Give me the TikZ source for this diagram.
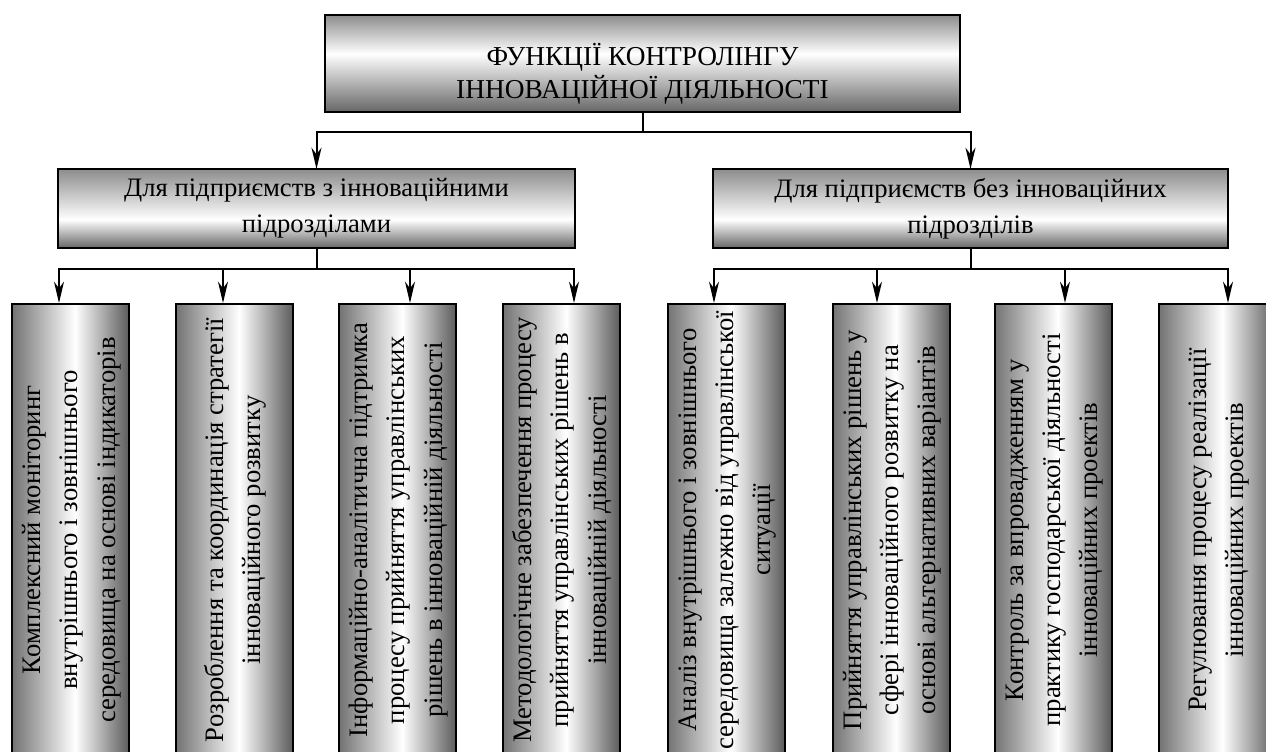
\documentclass[tikz,border=0pt]{standalone}
\usepackage{fontspec}
\setmainfont{Liberation Serif}
\usetikzlibrary{arrows.meta}
\definecolor{gA}{gray}{0.55}
\definecolor{gB}{gray}{0.40}
\definecolor{gC}{gray}{0.45}
\definecolor{gD}{gray}{0.36}
\pgfdeclareverticalshading{vgrTop}{100bp}{color(0bp)=(gB); color(25bp)=(gB); color(55bp)=(white); color(75bp)=(gA); color(100bp)=(gA)}
\pgfdeclareverticalshading{vgrMid}{100bp}{color(0bp)=(gB); color(25bp)=(gB); color(43bp)=(white); color(75bp)=(gA); color(100bp)=(gA)}
\pgfdeclarehorizontalshading{hgr}{100bp}{color(0bp)=(gC); color(25bp)=(gC); color(52bp)=(white); color(75bp)=(gD); color(100bp)=(gD)}
\newcommand{\vtext}[1]{\rotatebox{90}{\fontsize{20}{28}\selectfont\begin{tabular}{@{}c@{}}#1\end{tabular}}}
\begin{document}
\begin{tikzpicture}[x=0.75pt,y=-0.75pt,
  every node/.style={inner sep=0pt, outer sep=0pt},
  topbox/.style={draw=black, line width=1.5pt, shade, shading=vgrTop, minimum width=476.25pt, minimum height=72.75pt},
  midbox/.style={draw=black, line width=1.5pt, shade, shading=vgrMid, minimum height=59.25pt, align=center, font=\fontsize{20}{27}\selectfont},
  colbox/.style={draw=black, line width=1.5pt, shade, shading=hgr, minimum width=87.75pt, minimum height=339pt},
  txt/.style={align=center},
  conn/.style={line width=1.5pt},
  arr/.style={conn, -{Stealth[length=16pt,width=7.5pt,inset=5pt]}}]
\useasboundingbox (0,0) rectangle (1266,751);
\clip (0,0) rectangle (1266,751);
\fill[white] (0,0) rectangle (1266,751);

% top
\node[topbox] (top) at (642.5,63.5) {};
\node[txt, font=\fontsize{20.5}{25}\selectfont] (topt) at (642.5,74) {ФУНКЦІЇ КОНТРОЛІНГУ\\ІННОВАЦІЙНОЇ ДІЯЛЬНОСТІ};

% middle
\node[midbox, minimum width=387.75pt] (ml) at (316.5,208.5) {Для підприємств з інноваційними\\підрозділами};
\node[midbox, minimum width=386.25pt] (mr) at (970.5,208.5) {Для підприємств без інноваційних\\підрозділів};

% columns
\node[colbox] (b1) at (70.5,530) {\vtext{Комплексний моніторинг\\внутрішнього і зовнішнього\\середовища на основі індикаторів}};
\node[colbox] (b2) at (234.5,530) {\vtext{Розроблення та координація стратегії\\інноваційного розвитку}};
\node[colbox] (b3) at (397.5,530) {\vtext{Інформаційно-аналітична підтримка\\процесу прийняття управлінських\\рішень в інноваційній діяльності}};
\node[colbox] (b4) at (561.5,530) {\vtext{Методологічне забезпечення процесу\\прийняття управлінських рішень в\\інноваційній діяльності}};
\node[colbox] (b5) at (726,530) {\vtext{Аналіз внутрішнього і зовнішнього\\середовища залежно від управлінської\\ситуації}};
\node[colbox] (b6) at (891,530) {\vtext{Прийняття управлінських рішень у\\сфері інноваційного розвитку на\\основі альтернативних варіантів}};
\node[colbox] (b7) at (1053,530) {\vtext{Контроль за впровадженням у\\практику господарської діяльності\\інноваційних проектів}};
\node[colbox] (b8) at (1217.5,530) {\vtext{Регулювання процесу реалізації\\інноваційних проектів}};

% junctions and arrow targets
\coordinate (j0) at (642.5,132);
\coordinate (jl) at (316.5,269);
\coordinate (jr) at (970.5,269);
\coordinate (t1) at (59,303);
\coordinate (t2) at (223,303);
\coordinate (t3) at (410,303);
\coordinate (t4) at (574,303);
\coordinate (t5) at (714,303);
\coordinate (t6) at (877,303);
\coordinate (t7) at (1065,303);
\coordinate (t8) at (1228,303);

\draw[conn] (top.south) -- (j0);
\draw[arr] (j0) -| (ml.north);
\draw[arr] (j0) -| (mr.north);

\draw[conn] (ml.south) -- (jl);
\draw[arr] (jl) -| (t1);
\draw[arr] (jl) -| (t2);
\draw[arr] (jl) -| (t3);
\draw[arr] (jl) -| (t4);

\draw[conn] (mr.south) -- (jr);
\draw[arr] (jr) -| (t5);
\draw[arr] (jr) -| (t6);
\draw[arr] (jr) -| (t7);
\draw[arr] (jr) -| (t8);
\end{tikzpicture}
\end{document}
